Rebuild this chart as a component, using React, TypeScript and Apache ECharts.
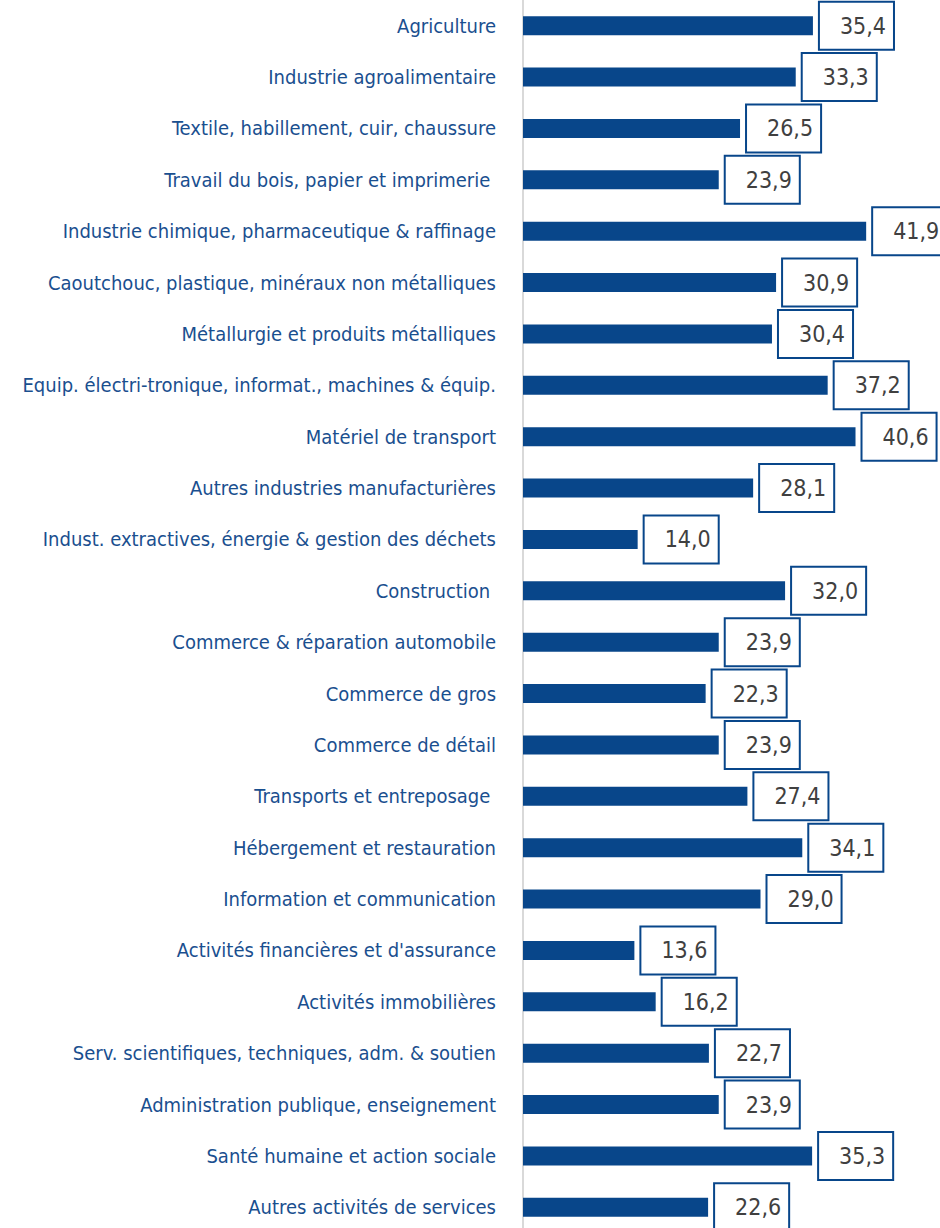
import React, { useEffect, useRef } from "react";
import * as echarts from "echarts";

const categories: string[] = [
  "Agriculture",
  "Industrie agroalimentaire",
  "Textile, habillement, cuir, chaussure",
  "Travail du bois, papier et imprimerie ",
  "Industrie chimique, pharmaceutique & raffinage",
  "Caoutchouc, plastique, minéraux non métalliques",
  "Métallurgie et produits métalliques",
  "Equip. électri-tronique, informat., machines & équip.",
  "Matériel de transport",
  "Autres industries manufacturières",
  "Indust. extractives, énergie & gestion des déchets",
  "Construction ",
  "Commerce & réparation automobile",
  "Commerce de gros",
  "Commerce de détail",
  "Transports et entreposage ",
  "Hébergement et restauration",
  "Information et communication",
  "Activités financières et d'assurance",
  "Activités immobilières",
  "Serv. scientifiques, techniques, adm. & soutien",
  "Administration publique, enseignement",
  "Santé humaine et action sociale",
  "Autres activités de services",
];

const values: number[] = [
  35.4, 33.3, 26.5, 23.9, 41.9, 30.9, 30.4, 37.2, 40.6, 28.1, 14.0, 32.0,
  23.9, 22.3, 23.9, 27.4, 34.1, 29.0, 13.6, 16.2, 22.7, 23.9, 35.3, 22.6,
];

const BLUE = "#08468a";
const FONT = "'DejaVu Sans Condensed', 'Liberation Sans Narrow', sans-serif";

export default function App() {
  const ref = useRef<HTMLDivElement>(null);
  useEffect(() => {
    if (!ref.current) return;
    const chart = echarts.init(ref.current, null, { renderer: "svg" });
    chart.setOption({
      animation: false,
      backgroundColor: "#ffffff",
      grid: {
        left: 523,
        right: 7.5,
        top: 0,
        bottom: -5,
        containLabel: false,
        outerBoundsMode: "none",
      },
      xAxis: {
        type: "value",
        min: 0,
        max: 50,
        show: false,
      },
      yAxis: {
        type: "category",
        inverse: true,
        data: categories,
        axisLine: { show: true, lineStyle: { color: "#d9d9d9", width: 2 } },
        axisTick: { show: false },
        axisLabel: {
          margin: 27,
          color: "#1a4f8f",
          fontFamily: FONT,
          fontSize: 20,
        },
        splitLine: { show: false },
      },
      series: [
        {
          type: "bar",
          data: values,
          barWidth: 19,
          itemStyle: { color: BLUE },
          label: {
            show: true,
            position: "right",
            distance: 7,
            formatter: (p: any) => Number(p.value).toFixed(1).replace(".", ","),
            color: "#404040",
            fontFamily: FONT,
            fontSize: 23,
            lineHeight: 29,
            backgroundColor: "#ffffff",
            borderColor: BLUE,
            borderWidth: 2,
            padding: [9, 7, 8, 20],
          },
        },
      ],
    });
    return () => chart.dispose();
  }, []);
  return (
    <div
      ref={ref}
      style={{ position: "fixed", left: 0, top: 0, width: 940, height: 1228 }}
    />
  );
}
